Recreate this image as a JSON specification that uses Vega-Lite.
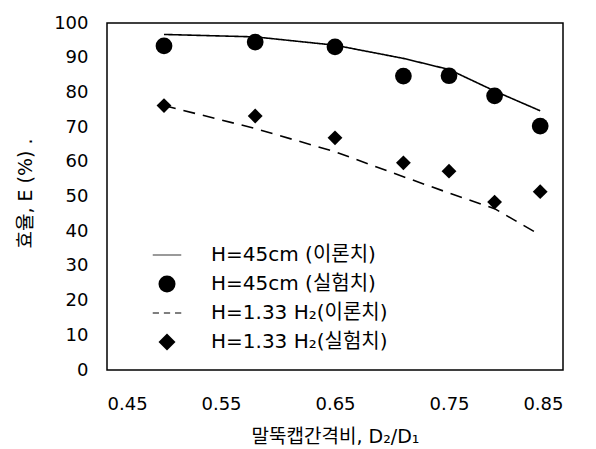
{
  "$schema": "https://vega.github.io/schema/vega-lite/v6.json",
  "width": 456,
  "height": 347,
  "autosize": "none",
  "padding": {"left": 107, "top": 23, "right": 33, "bottom": 79},
  "background": "white",
  "config": {
    "view": {"stroke": "black", "strokeWidth": 1.5},
    "font": "DejaVu Sans, 'Noto Sans CJK KR'",
    "axis": {"grid": false, "domain": false, "ticks": false, "labelColor": "black", "titleColor": "black", "labelFont": "DejaVu Sans", "labelFontSize": 18, "titleFontWeight": "normal", "titleFont": "DejaVu Sans, 'Noto Sans CJK KR'"}
  },
  "data": {
    "values": [
      {"series": "H=45cm (이론치)", "kind": "line", "ratio": 0.50, "eff": 96.7},
      {"series": "H=45cm (이론치)", "kind": "line", "ratio": 0.58, "eff": 96.0},
      {"series": "H=45cm (이론치)", "kind": "line", "ratio": 0.65, "eff": 93.6},
      {"series": "H=45cm (이론치)", "kind": "line", "ratio": 0.71, "eff": 89.8},
      {"series": "H=45cm (이론치)", "kind": "line", "ratio": 0.75, "eff": 86.6},
      {"series": "H=45cm (이론치)", "kind": "line", "ratio": 0.79, "eff": 80.4},
      {"series": "H=45cm (이론치)", "kind": "line", "ratio": 0.83, "eff": 74.7},
      {"series": "H=45cm (실험치)", "kind": "circle", "ratio": 0.50, "eff": 93.4},
      {"series": "H=45cm (실험치)", "kind": "circle", "ratio": 0.58, "eff": 94.5},
      {"series": "H=45cm (실험치)", "kind": "circle", "ratio": 0.65, "eff": 93.1},
      {"series": "H=45cm (실험치)", "kind": "circle", "ratio": 0.71, "eff": 84.7},
      {"series": "H=45cm (실험치)", "kind": "circle", "ratio": 0.75, "eff": 84.8},
      {"series": "H=45cm (실험치)", "kind": "circle", "ratio": 0.79, "eff": 79.0},
      {"series": "H=45cm (실험치)", "kind": "circle", "ratio": 0.83, "eff": 70.3},
      {"series": "H=1.33 H₂(이론치)", "kind": "line", "ratio": 0.50, "eff": 76.2},
      {"series": "H=1.33 H₂(이론치)", "kind": "line", "ratio": 0.58, "eff": 69.6},
      {"series": "H=1.33 H₂(이론치)", "kind": "line", "ratio": 0.65, "eff": 62.9},
      {"series": "H=1.33 H₂(이론치)", "kind": "line", "ratio": 0.71, "eff": 55.7},
      {"series": "H=1.33 H₂(이론치)", "kind": "line", "ratio": 0.75, "eff": 51.0},
      {"series": "H=1.33 H₂(이론치)", "kind": "line", "ratio": 0.79, "eff": 46.5},
      {"series": "H=1.33 H₂(이론치)", "kind": "line", "ratio": 0.83, "eff": 38.9},
      {"series": "H=1.33 H₂(실험치)", "kind": "diamond", "ratio": 0.50, "eff": 76.2},
      {"series": "H=1.33 H₂(실험치)", "kind": "diamond", "ratio": 0.58, "eff": 73.2},
      {"series": "H=1.33 H₂(실험치)", "kind": "diamond", "ratio": 0.65, "eff": 66.9},
      {"series": "H=1.33 H₂(실험치)", "kind": "diamond", "ratio": 0.71, "eff": 59.7},
      {"series": "H=1.33 H₂(실험치)", "kind": "diamond", "ratio": 0.75, "eff": 57.3},
      {"series": "H=1.33 H₂(실험치)", "kind": "diamond", "ratio": 0.79, "eff": 48.4},
      {"series": "H=1.33 H₂(실험치)", "kind": "diamond", "ratio": 0.83, "eff": 51.4}
    ]
  },
  "encoding": {
    "x": {
      "field": "ratio", "type": "quantitative",
      "scale": {"domain": [0.45, 0.85], "nice": false, "zero": false},
      "axis": {"values": [0.45, 0.55, 0.65, 0.75, 0.85], "format": ".2f", "labelPadding": 25, "title": "말뚝캡간격비, D₂/D₁", "titleFontSize": 19, "titleBaseline": "middle", "titleY": 66}
    },
    "y": {
      "field": "eff", "type": "quantitative",
      "scale": {"domain": [0, 100], "nice": false},
      "axis": {"values": [0, 10, 20, 30, 40, 50, 60, 70, 80, 90, 100], "labelPadding": 19, "title": "효율, E (%)   .", "titleFontSize": 19, "titleAngle": -90, "titleBaseline": "middle", "titleX": -82, "titleY": 170}
    }
  },
  "layer": [
    {
      "transform": [{"filter": "datum.kind == 'line'"}],
      "mark": {"type": "line", "color": "black", "strokeWidth": 1.6},
      "encoding": {
        "strokeDash": {"field": "series", "type": "nominal", "scale": {"domain": ["H=45cm (이론치)", "H=1.33 H₂(이론치)"], "range": [[1, 0], [12, 8]]}, "legend": null}
      }
    },
    {
      "transform": [{"filter": "datum.kind == 'circle'"}],
      "mark": {"type": "point", "filled": true, "color": "black", "opacity": 1, "size": 280},
      "encoding": {
        "shape": {"field": "series", "type": "nominal",
          "scale": {"domain": ["H=45cm (이론치)", "H=45cm (실험치)", "H=1.33 H₂(이론치)", "H=1.33 H₂(실험치)"], "range": ["M-1.675,-0.047L1.675,-0.047L1.675,0.047L-1.675,0.047Z", "circle", "M-1.675,-0.047L-0.941,-0.047L-0.941,0.047L-1.675,0.047ZM-0.367,-0.047L0.367,-0.047L0.367,0.047L-0.367,0.047ZM0.941,-0.047L1.675,-0.047L1.675,0.047L0.941,0.047Z", "diamond"]},
          "legend": {
            "title": null, "orient": "none", "legendX": 50, "legendY": 222,
            "symbolSize": 290, "labelFontSize": 20, "labelColor": "black", "labelLimit": 400,
            "labelFont": "DejaVu Sans, 'Noto Sans CJK KR'",
            "symbolFillColor": "black", "symbolOpacity": 1, "symbolStrokeWidth": 0,
            "labelOffset": 34, "rowPadding": 9, "padding": 0
          }
        }
      }
    },
    {
      "transform": [{"filter": "datum.kind == 'diamond'"}],
      "mark": {"type": "point", "filled": true, "color": "black", "opacity": 1, "size": 220},
      "encoding": {
        "shape": {"field": "series", "type": "nominal"}
      }
    }
  ]
}
